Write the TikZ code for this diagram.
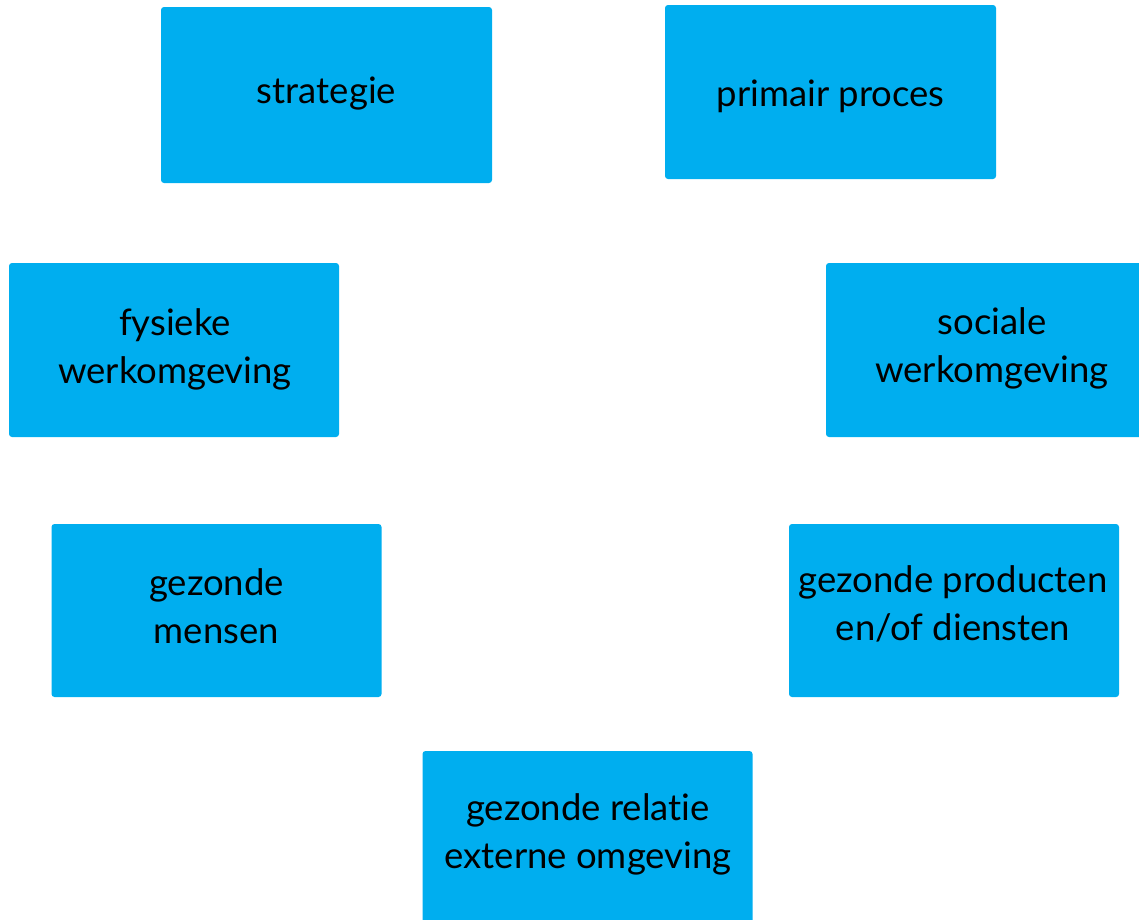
\documentclass[tikz,border=0pt]{standalone}
\usepackage{fontspec}
\setmainfont{Lato}[Ligatures={NoCommon}]
\definecolor{boxblue}{RGB}{0,174,239}
\begin{document}
\begin{tikzpicture}[x=1pt,y=-1pt,
  box/.style={fill=boxblue, draw=none, rounded corners=3pt, minimum width=330pt, minimum height=174pt, inner sep=0pt},
  lbl/.style={font=\fontsize{36.5}{48}\selectfont, align=center, anchor=base, inner sep=0pt, text=black}]
\useasboundingbox (0,0) rectangle (1139,919);
\clip (0,0) rectangle (1139,919);
% boxes
\node[box, minimum width=331pt, minimum height=176pt] (strat) at (326.5,95) {};
\node[box, minimum width=331pt] (prim) at (830.5,92) {};
\node[box] (fys) at (174,350) {};
\node[box] (soc) at (991,350) {};
\node[box, minimum height=173pt] (mens) at (216.5,610.5) {};
\node[box, minimum height=173pt] (prod) at (954,610.5) {};
\node[box] (rel) at (587.5,838) {};
% labels (base anchor = baseline of last line)
\node[lbl] (strat-t) at (326.5,103) {strategie};
\node[lbl] (prim-t) at (830.5,106) {primair proces};
\node[lbl] (fys-t) at (175,383) {fysieke\\werkomgeving};
\node[lbl] (soc-t) at (992,382) {sociale\\werkomgeving};
\node[lbl] (mens-t) at (216.5,643) {gezonde\\mensen};
\node[lbl] (prod-t) at (953,640) {gezonde producten\\en/of diensten};
\node[lbl] (rel-t) at (588,868) {gezonde relatie\\externe omgeving};
\end{tikzpicture}
\end{document}
